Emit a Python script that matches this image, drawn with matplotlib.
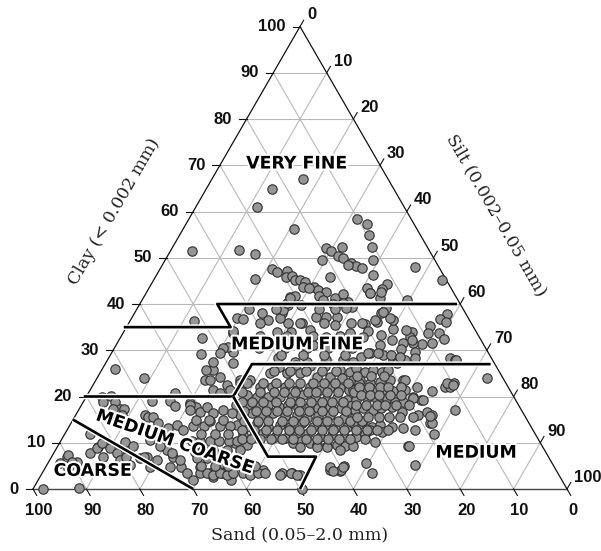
import numpy as np
import matplotlib
matplotlib.use("Agg")
import matplotlib.pyplot as plt
import matplotlib.patheffects as pe

# sample compositions (%)
sand = [16.0, 22.8, 27.5, 23.1, 44.5, 35.6, 33.0, 35.7,
        10.1, 8.8, 9.6, 10.3, 11.5, 13.2, 4.5, 0.9, 11.5, 13.1, 15.8, 15.6, 14.3, 9.6,
        19.1, 16.0, 18.4, 21.1, 17.6, 17.0, 16.1, 15.3, 14.5, 16.8,
        31.4, 30.9, 28.9, 29.7, 28.4, 28.2, 27.3, 26.7, 27.5, 25.6, 25.1, 23.7, 25.5, 22.8,
        20.8, 20.7, 31.1, 30.0, 32.3, 30.0, 26.7, 25.2, 23.8, 21.8, 21.5,
        3.6, 5.4, 4.6, 8.1, 9.1, 7.1, 6.8, 9.6, 11.5, 12.1, 13.0, 13.1, 15.0, 16.0, 13.6,
        14.4, 7.8, 7.1, 16.4, 18.6, 18.3, 19.9, 16.7, 19.5, 18.1, 15.3, 14.4, 15.7, 14.3,
        17.5, 20.0, 20.1, 21.7, 22.3, 24.2,
        15.7, 13.4, 20.6, 20.5, 17.7, 15.3, 14.7, 12.9, 13.0, 22.6, 20.7, 18.4, 17.0,
        38.2, 43.4, 42.3, 37.7, 34.4, 34.3, 31.8, 30.9, 28.3, 26.4, 24.5, 21.8, 25.7, 23.8,
        34.6, 37.4, 45.7, 28.6, 32.0, 40.0, 37.2, 35.0, 31.1, 28.0, 26.3,
        51.7, 52.1, 45.4, 35.3, 33.8, 32.4, 31.3,
        54.0, 71.7, 67.2, 63.1, 53.4, 56.0, 52.9, 52.5, 47.7, 48.0, 49.3, 50.4, 52.5,
        54.7, 55.1, 55.5, 54.7, 52.4, 49.4, 48.9,
        77.1, 75.3, 77.4, 75.2, 75.0, 68.3, 64.9, 64.5, 61.4, 60.5, 71.0, 70.6, 69.8,
        69.4, 68.2, 66.2, 65.5,
        83.3, 83.3, 81.3, 81.2, 80.5, 83.3, 80.6, 79.2, 90.2, 92.1, 88.9, 91.2, 77.7,
        78.1, 76.7, 75.2, 75.7, 70.7, 70.8, 70.2, 69.8, 69.5, 69.1,
        65.7, 63.0, 62.7, 61.9, 66.3, 64.9, 62.0, 61.9,
        98.2, 91.2, 89.7, 89.8, 85.5, 83.7, 82.2, 76.3, 74.3, 75.4, 75.1, 61.5,
        40.8, 37.4, 34.9, 32.0, 29.6, 27.9,
        43.1, 40.0, 37.5, 34.7, 32.2, 30.2, 28.2,
        49.8, 47.6, 46.4, 44.2, 41.7, 39.9, 37.1, 35.5, 33.3, 31.6, 30.2, 28.5,
        49.8, 48.1, 45.9, 43.7, 41.5, 39.2, 37.2, 35.4, 33.3, 31.6,
        52.8, 50.6, 48.9, 46.8, 45.1, 43.1, 41.6, 39.5, 37.8, 35.5, 33.5, 31.2,
        53.2, 50.8, 49.4, 46.8, 45.0, 42.6, 41.1, 38.7, 36.4, 34.2, 31.9,
        54.9, 53.3, 51.0, 49.2, 46.8, 45.1, 42.6, 40.8, 38.4, 36.9, 34.5, 32.1,
        54.8, 53.1, 50.8, 49.1, 47.3, 44.8, 42.4, 40.6, 38.2, 36.2, 34.1,
        57.3, 55.2, 46.3, 44.6, 43.2, 42.1, 40.4, 38.3, 36.9, 35.4,
        59.1, 57.8, 54.8, 51.7, 49.8, 48.5, 42.3, 39.4, 40.6,
        62.0, 60.3, 58.5, 58.0, 55.8, 54.6, 63.1, 61.2, 59.5, 58.1, 56.2,
        65.1, 63.5, 61.7, 60.1, 58.2, 56.7, 66.0, 64.1, 62.2, 60.4, 58.5,
        67.0, 65.1, 62.9, 61.1,
        73.6, 72.8, 71.6, 70.2, 69.3, 71.9, 73.7, 75.8, 76.6, 79.0,
        26.4, 25.1, 23.4, 22.0, 20.6, 27.0, 25.5, 23.4, 21.3, 18.9,
        29.3, 27.1, 25.4, 23.7, 22.0, 19.6, 17.1, 14.8, 11.8, 9.8, 10.9,
        29.8, 27.7, 26.0, 24.0, 22.8, 21.2, 18.8, 17.6,
        31.2, 29.4, 27.7, 26.0, 23.9, 22.6, 19.9, 17.9, 17.3, 12.4,
        32.9, 30.9, 29.8, 28.1, 26.1, 24.1, 22.1, 18.5, 19.0, 33.8, 31.9, 30.8, 28.5,
        25.2, 25.9, 34.8, 34.9,
        6.8, 3.0, 24.9, 18.2, 17.8, 18.5, 19.0, 17.3, 11.1, 10.1,
        42.0, 40.2, 41.9,
        65.8, 64.7, 63.3, 62.2, 60.8, 58.9, 57.8, 56.1, 54.8, 52.2, 50.0, 49.1, 49.6,
        39.5, 45.4, 42.3, 40.4, 38.3]

clay = [67.0, 64.8, 61.0, 56.2, 51.5, 51.7, 50.9, 45.4,
        58.4, 57.3, 54.9, 52.4, 49.5, 46.2, 48.0, 45.2, 44.3, 43.2, 43.4, 42.4, 41.4, 40.9,
        52.2, 52.3, 51.5, 49.5, 50.4, 49.9, 48.8, 48.3, 47.7, 48.4,
        47.6, 46.9, 47.1, 45.9, 46.1, 45.3, 45.3, 44.8, 43.7, 43.7, 43.0, 42.7, 41.8, 41.2,
        42.2, 40.5, 41.6, 41.8, 39.8, 39.8, 43.4, 40.9, 40.0, 40.2, 45.9,
        37.8, 36.7, 36.2, 35.2, 33.8, 33.7, 32.4, 31.5, 31.4, 34.0, 32.9, 31.5, 31.5, 30.2, 29.7,
        28.3, 28.3, 27.9, 27.9, 27.9, 27.2, 29.0, 32.2, 31.1, 33.3, 34.5, 36.5, 38.1, 39.1,
        36.2, 35.7, 34.2, 32.9, 29.3, 28.6,
        42.3, 42.7, 39.4, 35.8, 36.5, 38.3, 36.9, 34.4, 32.2, 29.3, 29.3, 29.0, 28.6,
        38.0, 36.9, 36.7, 36.5, 38.0, 35.8, 35.8, 34.4, 37.3, 37.3, 37.3, 39.1, 35.5, 33.7,
        34.0, 34.0, 33.7, 32.9, 31.1, 28.3, 27.5, 27.5, 27.9, 27.9, 27.5,
        36.3, 32.6, 34.2, 36.9, 38.7, 40.2, 41.2,
        29.1, 25.9, 23.9, 20.7, 25.7, 23.6, 24.3, 22.5, 29.7, 30.8, 30.4, 29.3, 27.5,
        25.7, 23.6, 21.4, 20.7, 21.4, 23.6, 27.2,
        20.0, 20.1, 18.9, 18.9, 17.4, 19.0, 19.0, 17.9, 18.5, 17.8, 16.0, 15.6, 15.5,
        14.2, 13.1, 13.8, 12.8,
        12.0, 9.1, 9.9, 8.8, 7.7, 7.0, 6.3, 5.2, 7.0, 5.6, 5.9, 4.5, 10.2,
        8.1, 6.6, 7.0, 4.8, 9.9, 8.4, 7.0, 4.8, 3.4, 1.9,
        8.1, 9.1, 7.0, 5.6, 4.8, 2.7, 3.4, 1.9,
        0.0, 0.2, 7.4, 5.9, 7.7, 8.8, 9.9, 17.4, 17.4, 16.0, 14.9, 18.2,
        26.3, 26.8, 26.5, 26.5, 25.7, 25.4,
        25.0, 25.0, 25.0, 24.3, 24.3, 23.9, 23.6,
        22.9, 23.6, 22.1, 22.1, 22.1, 21.4, 22.1, 21.4, 22.1, 21.8, 21.4, 21.8,
        20.4, 20.0, 20.0, 20.0, 20.0, 20.3, 20.0, 19.3, 19.6, 19.3,
        18.2, 18.2, 17.8, 18.2, 17.8, 18.2, 17.5, 17.8, 17.5, 17.8, 17.5, 18.2,
        16.0, 16.4, 15.7, 16.4, 15.7, 16.0, 15.3, 15.7, 16.0, 15.3, 15.7,
        13.9, 13.5, 14.2, 13.5, 13.9, 13.5, 14.2, 13.5, 13.9, 13.1, 13.5, 13.9,
        11.7, 11.3, 12.1, 11.3, 11.0, 11.7, 12.1, 11.3, 11.7, 11.3, 11.3,
        9.9, 9.6, 9.9, 10.3, 9.9, 9.6, 9.2, 9.6, 9.2, 9.2,
        5.6, 3.8, 4.1, 3.4, 3.4, 3.1, 4.1, 4.9, 3.8,
        17.1, 16.7, 17.8, 16.4, 17.1, 16.4, 13.7, 13.7, 14.6, 13.7, 13.7,
        10.3, 10.3, 10.3, 10.3, 10.3, 10.3, 6.7, 6.7, 6.7, 6.7, 6.7,
        3.4, 3.4, 3.4, 3.4,
        12.8, 10.6, 9.2, 7.7, 6.3, 4.8, 6.3, 7.0, 9.2, 7.0,
        26.1, 25.4, 25.7, 25.4, 25.7, 23.6, 22.9, 23.2, 23.6, 23.6,
        21.4, 21.4, 21.1, 21.4, 21.1, 21.4, 22.1, 21.1, 22.1, 22.9, 22.1,
        19.3, 19.6, 19.3, 19.6, 18.9, 18.9, 20.0, 19.3,
        17.1, 17.5, 17.1, 17.5, 17.8, 16.7, 16.0, 16.7, 16.0, 17.1,
        14.2, 14.6, 13.5, 13.9, 13.5, 13.1, 12.8, 14.2, 12.0, 11.3, 12.0, 10.2, 12.4,
        9.2, 5.2, 5.6, 3.4,
        27.9, 24.1, 9.2, 14.2, 15.7, 23.6, 19.6, 19.3, 22.9, 22.5,
        4.8, 4.1, 3.8,
        3.4, 3.0, 3.4, 3.0, 3.4, 3.4, 3.0, 3.4, 3.4, 3.0, 3.4, 3.0, 0.1,
        4.8, 9.1, 9.1, 9.1, 8.4]

# extra samples in the crowded middle of the chart, row by row (clay level)
sand_dense = [42.0, 39.0, 36.0, 33.0, 30.5,
              48.5, 45.5, 43.0, 40.5, 38.5, 36.0, 34.0, 32.0, 29.5, 27.5,
              50.5, 47.0, 44.5, 42.5, 40.5, 38.0, 36.5, 34.5, 32.5, 29.5,
              51.5, 49.5, 47.5, 45.0, 42.5, 40.5, 38.5, 36.5, 34.5, 32.5,
              52.0, 49.8, 48.0, 46.0, 44.0, 41.8, 40.0, 37.5, 35.5, 33.0,
              53.0, 50.5, 48.5, 46.0, 44.0, 41.8, 39.5, 37.6, 35.5, 33.3, 31.0,
              54.5, 52.2, 50.0, 48.0, 45.8, 43.8, 41.5, 39.5, 37.5, 35.5, 33.2, 30.5,
              55.5, 53.8, 52.0, 50.0, 48.0, 46.0, 43.5, 41.5, 39.3, 37.3, 35.3, 32.5,
              57.0, 59.5, 62.0,
              57.5, 60.0, 62.5,
              57.0, 59.5, 62.0, 64.0,
              56.0, 58.5, 61.0, 63.5, 66.0,
              27.0, 24.5, 22.0,
              28.0, 26.0, 24.0, 22.5, 20.0,
              28.5, 26.8, 25.0, 23.0, 21.0,
              30.5, 28.5, 26.5, 25.0, 23.0, 20.5,
              31.5, 29.5, 27.5, 25.5, 23.5, 21.0,
              31.0, 29.2, 27.2,
              24.0, 27.0, 35.0, 40.0,
              22.5, 27.5, 32.0, 39.5,
              26.0, 31.0, 36.0, 41.0,
              25.0, 29.5, 33.5, 37.5, 42.5,
              27.0, 31.0, 35.0, 39.0]
clay_dense = ([25.6] * 5 + [23.0] * 10 + [20.9] * 10 + [18.9] * 10 + [16.8] * 10
              + [14.8] * 11 + [12.7] * 12 + [10.8] * 12
              + [15.0] * 3 + [12.0] * 3 + [8.5] * 4 + [5.0] * 5
              + [24.5] * 3 + [22.0] * 5 + [20.3] * 5 + [18.2] * 6 + [15.5] * 6 + [12.8] * 3
              + [39.0] * 4 + [36.0] * 4 + [33.0] * 4 + [30.5] * 5 + [29.0] * 4)

ticks = [0, 10, 20, 30, 40, 50, 60, 70, 80, 90, 100]

# texture class boundaries, vertices as (sand %, clay %)
very_fine_line = [(65.5, 35), (45.5, 35), (45.5, 40), (0.6, 40)]
medium_fine_line = [(80.5, 20), (52.5, 20), (45.5, 27), (0.8, 27)]
medium_line = [(52.5, 20), (52.5, 7), (43.5, 7), (50.0, 0)]
coarse_line = [(85.0, 15), (70.0, 0)]

H = np.sqrt(3) / 2


def to_xy(s, c):
    # sand/clay -> cartesian (sand 100 at left, clay 100 at top)
    s = np.asarray(s, dtype=float)
    c = np.asarray(c, dtype=float)
    return 100 - s - c / 2, c * H


def draw_path(ax, pts, **kw):
    s, c = zip(*pts)
    x, y = to_xy(s, c)
    ax.plot(x, y, **kw)


fig = plt.figure(figsize=(6.01, 5.51), dpi=100)
ax = fig.add_axes([0, 0, 1, 1])
px = 5.34  # pixels per unit
ax.set_xlim(-33 / px, 100 + 34 / px)
ax.set_ylim(-62 / px, 489 / px)
ax.axis('off')

# grid
grid_kw = dict(color='#b8b8b8', lw=0.8, zorder=1)
for v in ticks[1:-1]:
    draw_path(ax, [(100 - v, v), (0, v)], **grid_kw)          # clay
    draw_path(ax, [(v, 0), (v, 100 - v)], **grid_kw)          # sand
    draw_path(ax, [(100 - v, 0), (0, 100 - v)], **grid_kw)    # silt

# triangle frame
draw_path(ax, [(100, 0), (0, 100), (0, 0)], color='#111111', lw=0.9, zorder=2)
draw_path(ax, [(100, 0), (0, 0)], color='#444444', lw=1.0, zorder=2)

# ticks and tick labels
tick_font = dict(family='Liberation Sans', weight='bold', fontsize=12, color='#111111')
for v in ticks:
    # clay, left edge
    x, y = to_xy(100 - v, v)
    ax.plot([x - 1.4, x], [y, y], color='#111111', lw=0.8)
    ax.text(x - 2.7, y, str(v), ha='right', va='center', **tick_font)
    # silt, right edge
    x, y = to_xy(0, 100 - v)
    ax.plot([x, x + 0.7], [y, y + 1.2], color='#111111', lw=0.8)
    ax.text(x + 1.3, y + 2.2, str(v), ha='left', va='center', **tick_font)
    # sand, bottom edge
    x, y = to_xy(v, 0)
    ax.plot([x, x + 0.7], [y, y - 1.2], color='#111111', lw=0.8)
    ax.text(x + 1.1, -4.1, str(v), ha='center', va='center', **tick_font)

# class boundaries
line_kw = dict(color='black', lw=1.9, zorder=4, solid_capstyle='butt',
               path_effects=[pe.Stroke(linewidth=4, foreground='white'), pe.Normal()])
for pts in [very_fine_line, medium_fine_line, medium_line, coarse_line]:
    draw_path(ax, pts, **line_kw)

# samples
x, y = to_xy(sand + sand_dense, clay + clay_dense)
ax.scatter(x, y, s=46, c='#959595', edgecolors='#303030', linewidths=0.8, zorder=3)

# class names
name_kw = dict(family='DejaVu Sans', weight='bold', fontsize=12.5, color='black',
               ha='center', va='center', zorder=6,
               path_effects=[pe.withStroke(linewidth=3, foreground='white')])
ax.text(49.4, 60.95, 'VERY FINE', **name_kw)
ax.text(49.5, 27.1, 'MEDIUM FINE', **name_kw)
ax.text(26.6, 8.8, 'MEDIUM COARSE', rotation=-19, **name_kw)
ax.text(11.2, 3.4, 'COARSE', **name_kw)
ax.text(83.0, 6.8, 'MEDIUM', **name_kw)

# axis titles
title_kw = dict(family='DejaVu Serif', fontsize=12.5, color='#222222', ha='center', va='center')
ax.text(50.0, -8.6, 'Sand (0.05\u20132.0 mm)', **title_kw)
ax.text(15.2, 51.9, 'Clay (< 0.002 mm)', rotation=60, **title_kw)
ax.text(86.7, 51.3, 'Silt (0.002\u20130.05 mm)', rotation=-60, **title_kw)

fig.savefig('out.png', dpi=100)
